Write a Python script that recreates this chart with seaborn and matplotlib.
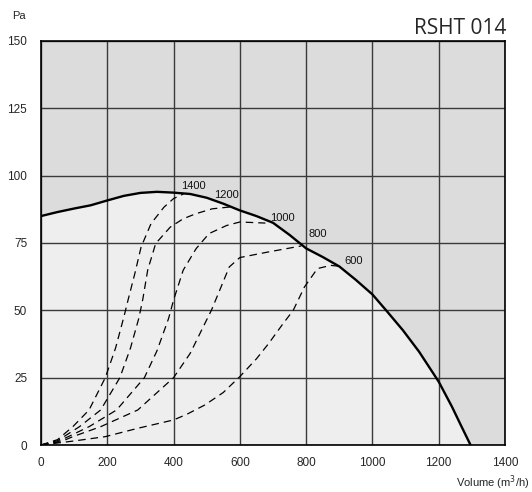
import numpy as np
import pandas as pd
import matplotlib
matplotlib.use("Agg")
import matplotlib.pyplot as plt
import seaborn as sns

# Fan curve (Volume m3/h, Pa)
fan_x = [0, 50, 100, 150, 200, 250, 300, 350, 400, 450, 500, 550, 600, 650, 700, 750,
         800, 850, 900, 950, 1000, 1042, 1092, 1141, 1200, 1240, 1269, 1296]
fan_y = [85, 86.5, 87.8, 89, 90.8, 92.5, 93.6, 94, 93.7, 93.2, 91.8, 89.6, 87.1, 85, 82.5, 78,
         73, 69.8, 66.3, 61.3, 55.9, 49.9, 42.6, 34.6, 23.5, 14.2, 6.8, 0]

# Speed curves (dashed)
rpm_labels = ["1400", "1200", "1000", "800", "600"]
c1400_x = [0, 50, 96, 145, 194, 225, 251, 263, 283, 302, 332, 371, 400, 430]
c1400_y = [0, 2, 6.8, 13, 25, 36, 48, 54, 63.6, 73.5, 82.2, 88.3, 91.5, 93.2]
c1200_x = [0, 50, 116, 180, 238, 270, 295, 307, 322, 346, 390, 429, 468, 517, 580]
c1200_y = [0, 1.6, 6.8, 13, 25, 36, 47, 54, 65, 74.8, 80.9, 84, 85.9, 87.7, 88.5]
c1000_x = [0, 50, 145, 228, 312, 350, 385, 400, 429, 468, 507, 560, 600, 677]
c1000_y = [0, 1.2, 6.8, 13, 25, 35, 47, 53.8, 64.9, 72.9, 78.5, 81.5, 82.8, 82.4]
c800_x = [0, 60, 96, 180, 292, 400, 450, 514, 539, 568, 600, 687, 785]
c800_y = [0, 1.2, 3.1, 6.8, 13, 25, 34, 50, 57.4, 66.1, 69.6, 71.7, 73.9]
c600_x = [0, 100, 194, 292, 400, 440, 495, 550, 600, 650, 687, 730, 761, 795, 834, 874, 904]
c600_y = [0, 1.5, 3.1, 6.2, 9.3, 11.4, 14.9, 19.5, 25.4, 32, 37.7, 45, 50, 58.7, 65.5, 66.7, 66.3]
curves_x = [c1400_x, c1200_x, c1000_x, c800_x, c600_x]
curves_y = [c1400_y, c1200_y, c1000_y, c800_y, c600_y]

# Label positions (data coords) for speed labels
lab_x = [461, 561, 728, 834, 943]
lab_y = [96.2, 92.7, 84.2, 78.2, 68.2]

xticks = [0, 200, 400, 600, 800, 1000, 1200, 1400]
yticks = [0, 25, 50, 75, 100, 125, 150]

sns.set_style("white")
plt.rcParams['font.family'] = ['Liberation Sans', 'DejaVu Sans']

fig = plt.figure(figsize=(5.32, 4.92), dpi=100)
ax = fig.add_axes([41/532, 1-445/492, (505-41)/532, (445-41)/492])
ax.set_facecolor("#dcdcdc")
ax.set_xlim(0, 1400)
ax.set_ylim(0, 150)

ax.fill_between(fan_x, 0, fan_y, color="#eeeeee", zorder=0, linewidth=0)

ax.set_axisbelow(True)
ax.grid(True, color="#3a3a3a", linewidth=1.0)

for cx, cy in zip(curves_x, curves_y):
    sns.lineplot(x=cx, y=cy, ax=ax, color="black", linewidth=0.9,
                 linestyle=(0, (6, 4)), zorder=3)

sns.lineplot(x=fan_x, y=fan_y, ax=ax, color="black", linewidth=1.7, zorder=4)

for t, lx, ly in zip(rpm_labels, lab_x, lab_y):
    ax.text(lx, ly, t, fontsize=8, ha="center", va="center", color="#111111", zorder=5)

ax.set_xticks(xticks)
ax.set_yticks(yticks)
ax.set_xticklabels([str(v) for v in xticks], fontsize=8.5)
ax.set_yticklabels([str(v) for v in yticks], fontsize=8.5)
ax.set_xticks([100, 300, 500, 700, 900, 1100, 1300], minor=True)
ax.set_yticks([12.5, 37.5, 62.5, 87.5, 112.5, 137.5], minor=True)
ax.tick_params(axis="y", which="major", length=0, pad=10)
ax.tick_params(axis="x", which="major", length=0, pad=9)
ax.tick_params(axis="both", which="minor", direction="in", length=4, width=1.2, color="black")
ax.set_xlabel("")
ax.set_ylabel("")

for s in ax.spines.values():
    s.set_visible(True)
    s.set_color("black")
    s.set_linewidth(1.2)

fig.text(12/532, 1-16/492, "Pa", fontsize=8, ha="left", va="center")
fig.text(506/532, 1-28/492, "RSHT 014", fontsize=15, ha="right", va="center",
         family=["Open Sans", "DejaVu Sans"])
fig.text(529/532, 1-483/492, "Volume (m$^3$/h)", fontsize=8, ha="right", va="center")

fig.savefig("out.png", dpi=100)
